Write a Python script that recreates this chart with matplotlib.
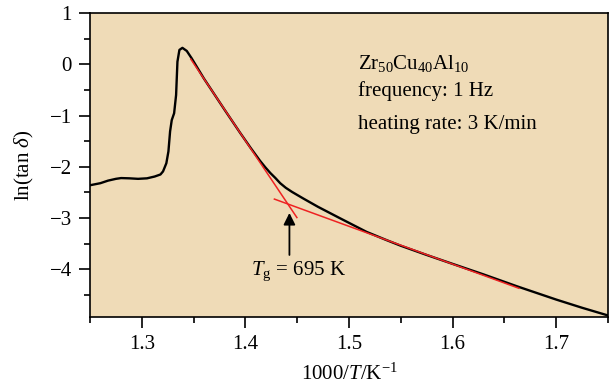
import matplotlib
matplotlib.use("Agg")
import matplotlib.pyplot as plt
from matplotlib.ticker import MultipleLocator

plt.rcParams['font.family'] = ['Liberation Serif', 'DejaVu Serif']
plt.rcParams['mathtext.fontset'] = 'custom'
plt.rcParams['mathtext.rm'] = 'Liberation Serif'
plt.rcParams['mathtext.it'] = 'Liberation Serif:italic'

# measured curve: 1000/T vs ln(tan delta)
inv_T = [1.250, 1.2600, 1.2674, 1.275, 1.280, 1.288, 1.2964, 1.305, 1.3124, 1.3180,
         1.3205, 1.3237, 1.3257, 1.3273, 1.3289, 1.3312, 1.3331, 1.3344, 1.3363,
         1.3392, 1.3434, 1.348, 1.360, 1.380, 1.395, 1.405, 1.414, 1.419, 1.424,
         1.429, 1.4336, 1.439, 1.445, 1.456, 1.470, 1.490, 1.517, 1.535, 1.550,
         1.575, 1.598, 1.630, 1.662, 1.700, 1.725, 1.750]
ln_tan = [-2.36, -2.32, -2.27, -2.235, -2.22, -2.225, -2.235, -2.225, -2.19, -2.15,
          -2.09, -1.93, -1.70, -1.31, -1.09, -0.955, -0.60, 0.05, 0.28,
          0.32, 0.26, 0.12, -0.28, -0.89, -1.34, -1.63, -1.88, -2.005, -2.12,
          -2.22, -2.32, -2.41, -2.49, -2.62, -2.78, -2.99, -3.27, -3.42, -3.54,
          -3.72, -3.88, -4.10, -4.33, -4.59, -4.75, -4.90]

# fitted tangent lines (endpoints)
fit1_x = [1.3473, 1.4497]
fit1_y = [0.10, -2.99]
fit2_x = [1.428, 1.664]
fit2_y = [-2.63, -4.37]

Tg_x = 1.4425
arrow_from_y = -3.72
arrow_to_y = -2.90

fig = plt.figure(figsize=(6.14, 3.87), dpi=100)
ax = fig.add_axes([90/614, 1-317/387, (608-90)/614, (317-13)/387])
ax.set_facecolor('#EFDBB7')

ax.plot(inv_T, ln_tan, color='black', lw=1.7, zorder=3, solid_joinstyle='round')
ax.plot(fit1_x, fit1_y, color='#EE2222', lw=1.1, zorder=4)
ax.plot(fit2_x, fit2_y, color='#EE2222', lw=1.1, zorder=4)

ax.annotate('', xy=(Tg_x, arrow_to_y), xytext=(Tg_x, arrow_from_y),
            arrowprops=dict(arrowstyle='-|>,head_length=0.7,head_width=0.35',
                            color='black', lw=1.3, shrinkA=0, shrinkB=0))
ax.text(1.451, -4.04, r'$T_{\mathrm{g}}$ = 695 K', fontsize=15, ha='center', va='center')

ax.text(1.509, 0.02, r'Zr$_{50}$Cu$_{40}$Al$_{10}$', fontsize=15, ha='left', va='center')
ax.text(1.509, -0.53, 'frequency: 1 Hz', fontsize=15, ha='left', va='center')
ax.text(1.509, -1.18, 'heating rate: 3 K/min', fontsize=15, ha='left', va='center')

ax.set_xlim(1.25, 1.75)
ax.set_ylim(-4.93, 1)
ax.xaxis.set_major_locator(MultipleLocator(0.1))
ax.xaxis.set_minor_locator(MultipleLocator(0.05))
ax.yaxis.set_major_locator(MultipleLocator(1))
ax.yaxis.set_minor_locator(MultipleLocator(0.5))
ax.tick_params(which='major', direction='out', length=8, width=1.2, labelsize=15, pad=5)
ax.tick_params(which='minor', direction='out', length=4, width=1.2)
ax.tick_params(top=False, right=False)
for s in ax.spines.values():
    s.set_linewidth(1.2)

ax.set_xlabel(r'1000/$T$/K$^{-1}$', fontsize=15, labelpad=7)
ax.set_ylabel(r'ln(tan $\delta$)', fontsize=15, labelpad=10)

fig.savefig('out.png', dpi=100)
